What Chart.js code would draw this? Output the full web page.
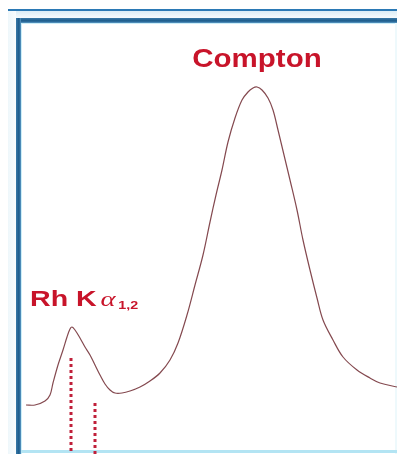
<!DOCTYPE html>
<html>
<head>
<meta charset="utf-8">
<script src="https://cdn.jsdelivr.net/npm/chart.js@4"></script>
<style>
  html, body { margin: 0; padding: 0; background: #fff; }
  #wrap { position: relative; width: 397px; height: 454px; overflow: hidden; background: #fff; }
  .f { position: absolute; }
  #outerTop  { left: 8px;  top: 9px;  width: 389px; height: 2px; background: #2b79b5; }
  #hazeTop   { left: 8px;  top: 11px; width: 389px; height: 7px; background: linear-gradient(#dcedf6, #f7fbfd); }
  #hazeLeft  { left: 8px;  top: 11px; width: 8px;  height: 443px; background: linear-gradient(90deg, #eef7fb, #fafdfe); }
  #innerTop  { left: 16px; top: 18px; width: 381px; height: 5px; background: linear-gradient(#3a7aa8, #1b5a8a 60%, #5b9ac6); }
  #innerLeft { left: 16px; top: 18px; width: 5px;  height: 436px; background: linear-gradient(90deg, #3a7aa8, #1b5a8a 60%, #5b9ac6); }
  #edgeTop   { left: 21px; top: 23px; width: 376px; height: 1px; background: #cdeef8; }
  #edgeLeft  { left: 21px; top: 23px; width: 1px;  height: 431px; background: #cdeef8; }
  #edgeRight { left: 395px; top: 23px; width: 2px; height: 431px; background: #eef9fc; }
  #bottom    { left: 21px; top: 450px; width: 376px; height: 3px; background: #b3e4f3; }
  #box { position: absolute; left: 0; top: 0; width: 397px; height: 454px; }
</style>
</head>
<body>
<div id="wrap">
  <div class="f" id="outerTop"></div>
  <div class="f" id="hazeTop"></div>
  <div class="f" id="hazeLeft"></div>
  <div class="f" id="innerTop"></div>
  <div class="f" id="innerLeft"></div>
  <div class="f" id="edgeTop"></div>
  <div class="f" id="edgeLeft"></div>
  <div class="f" id="edgeRight"></div>
  <div class="f" id="bottom"></div>
  <div id="box"><canvas id="c"></canvas></div>
</div>
<script>
// Spectrum: detector channel vs. counts (arbitrary units)
const channels = [4, 13, 23, 28, 31, 36, 41, 45, 48, 50, 53, 58, 63, 68, 73, 78, 83, 88, 93, 100,
  108, 118, 128, 138, 148, 156, 165, 173, 181, 188, 194, 200, 206, 213, 220, 226, 231, 235, 240,
  246, 251, 256, 262, 268, 275, 281, 288, 295, 301, 311, 321, 335, 348, 358, 375];
const counts = [47, 47, 51, 57, 69, 87, 102, 115, 123, 125, 122, 114, 105, 97, 87, 77, 68, 62, 59, 59,
  61, 65, 71, 79, 92, 109, 137, 167, 197, 230, 257, 282, 310, 334, 352, 360, 364, 365, 362,
  354, 342, 322, 297, 272, 242, 212, 182, 154, 132, 112, 95, 82, 74, 69, 65];

// Rh K-alpha line positions (dotted markers) and their heights
const lineChannels = [49, 73];
const lineHeights = [94, 49];

// Peak labels
const comptonLabel = "Compton";
const rhLabel = "Rh K";
const rhGreek = "α";
const rhSub = "1,2";

const spectrum = channels.map((c, i) => ({ x: c, y: counts[i] }));
const markerSets = lineChannels.map((c, i) => ({
  data: [{ x: c, y: lineHeights[i] }, { x: c, y: -2 }],
  borderColor: '#c0203a',
  borderWidth: 3,
  borderDash: [3, 3],
  borderCapStyle: 'butt',
  pointRadius: 0,
  tension: 0,
  clip: false
}));

function peakIndex(lo, hi) {
  let best = -1;
  channels.forEach((c, i) => {
    if (c >= lo && c <= hi && (best < 0 || counts[i] > counts[best])) best = i;
  });
  return best;
}

const labelPlugin = {
  id: 'peakLabels',
  afterDatasetsDraw(chart) {
    const { ctx, scales: { x, y } } = chart;
    const red = '#c8142a';
    ctx.save();
    ctx.fillStyle = red;
    ctx.textBaseline = 'alphabetic';

    // Compton peak label
    const ci = peakIndex(150, 375);
    const cx = x.getPixelForValue(channels[ci]);
    const cy = y.getPixelForValue(counts[ci]);
    ctx.save();
    ctx.translate(cx, cy - 20);
    ctx.scale(1.18, 1);
    ctx.font = 'bold 25px "Liberation Sans", Arial, sans-serif';
    ctx.textAlign = 'center';
    ctx.fillText(comptonLabel, 0, 0);
    ctx.restore();

    // Rh K-alpha label
    const ri = peakIndex(0, 120);
    const rx = x.getPixelForValue(channels[ri]) - 42;
    const ry = y.getPixelForValue(counts[ri]) - 21;
    ctx.save();
    ctx.translate(rx, ry);
    ctx.scale(1.3, 1);
    ctx.textAlign = 'left';
    ctx.font = 'bold 22px "Liberation Sans", Arial, sans-serif';
    ctx.fillText(rhLabel, 0, 0);
    let w = ctx.measureText(rhLabel).width + 3;
    ctx.font = 'italic 22px "Liberation Serif", "Times New Roman", serif';
    ctx.fillText(rhGreek, w, 0);
    w += ctx.measureText(rhGreek).width + 2;
    ctx.font = 'bold 11px "Liberation Sans", Arial, sans-serif';
    ctx.fillText(rhSub, w, 3);
    ctx.restore();

    ctx.restore();
  }
};

new Chart(document.getElementById('c'), {
  type: 'line',
  data: {
    datasets: [
      {
        data: spectrum,
        borderColor: '#84494f',
        borderWidth: 1.2,
        pointRadius: 0,
        tension: 0.35,
        fill: false
      },
      ...markerSets
    ]
  },
  options: {
    responsive: true,
    maintainAspectRatio: false,
    animation: false,
    layout: { padding: { left: 22, top: 23, right: 0, bottom: 2 } },
    plugins: { legend: { display: false }, tooltip: { enabled: false } },
    scales: {
      x: { type: 'linear', min: 0, max: 375, display: false },
      y: { type: 'linear', min: 0, max: 429, display: false }
    }
  },
  plugins: [labelPlugin]
});
</script>
</body>
</html>
